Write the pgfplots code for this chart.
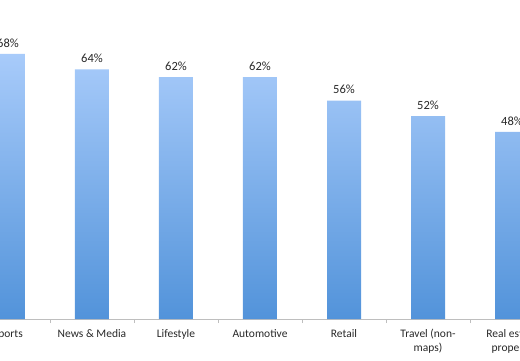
\documentclass[border=0pt]{standalone}
\usepackage{pgfplots}
\pgfplotsset{compat=1.18}
\usepackage{fontspec}
\setmainfont{Carlito}
\definecolor{bartop}{RGB}{168,203,250}
\definecolor{barbot}{RGB}{82,147,218}
\definecolor{axgray}{RGB}{190,190,190}
\definecolor{txt}{RGB}{40,40,40}
\begin{document}
\begin{tikzpicture}[x=1pt,y=1pt]
\clip (0,-41) rectangle (520,319);
\begin{axis}[
  at={(0,0)}, anchor=south west,
  scale only axis, width=520pt, height=319pt,
  xmin=-0.095, xmax=6.095, ymin=0, ymax=81.8,
  axis x line*=bottom, axis y line=none,
  x axis line style={axgray, line width=0.8pt},
  ybar, bar width=34pt,
  xtick={0,...,6},
  xticklabels={Sports,{News \& Media},Lifestyle,Automotive,Retail,{Travel (non-\\maps)},{Real estate\\property}},
  xticklabel style={align=center, font=\fontsize{11.5}{13.5}\selectfont, text=txt, yshift=-7pt},
  major tick length=0pt,
  minor xtick={-0.5,0.5,...,6.5},
  minor tick length=4pt, tick align=outside,
  minor tick style={axgray, line width=0.8pt},
  clip=false,
  /pgf/number format/assume math mode=true,
  nodes near coords={\pgfmathprintnumber{\pgfplotspointmeta}\%},
  nodes near coords style={font=\fontsize{12.5}{14}\selectfont, text=txt, yshift=3pt},
]
\addplot[draw=none, top color=bartop, bottom color=barbot] coordinates {(0,68) (1,64) (2,62) (3,62) (4,56) (5,52) (6,48)};
\end{axis}
\end{tikzpicture}
\end{document}
